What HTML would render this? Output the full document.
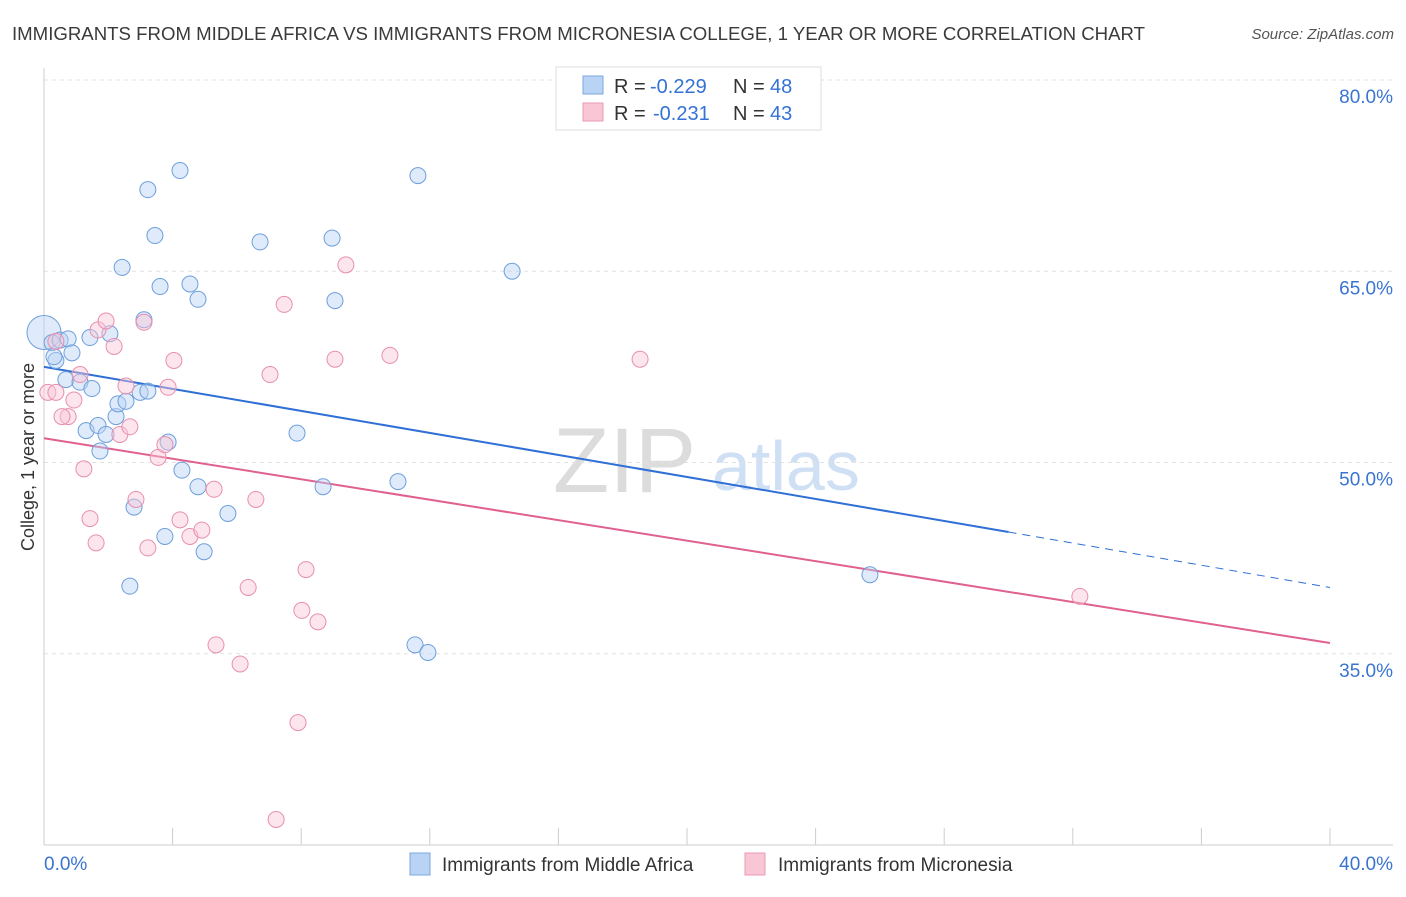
<!DOCTYPE html>
<html><head><meta charset="utf-8"><style>
body{margin:0;background:#fff;font-family:"Liberation Sans",sans-serif;}
svg text{font-family:"Liberation Sans",sans-serif;}
</style></head><body>
<svg id="chart" width="1406" height="892" xmlns="http://www.w3.org/2000/svg">
<text x="12" y="40" font-size="18" fill="#3a3a3a" textLength="1133" lengthAdjust="spacingAndGlyphs">IMMIGRANTS FROM MIDDLE AFRICA VS IMMIGRANTS FROM MICRONESIA COLLEGE, 1 YEAR OR MORE CORRELATION CHART</text>
<text x="1394" y="39" font-size="15" fill="#555" text-anchor="end" font-style="italic">Source: ZipAtlas.com</text>
<g><text x="553" y="492" font-size="92" fill="#dcdcdc" font-family="Liberation Serif">ZIP</text><text x="712" y="490" font-size="70" fill="#cfe0f5">atlas</text></g>
<g id="grid"></g><g id="axes"></g><g id="lines"></g><g id="points"></g>
<text transform="translate(34,457) rotate(-90)" font-size="18" fill="#333" text-anchor="middle">College, 1 year or more</text>
<g>
<rect x="556" y="67" width="265" height="63" fill="#fff" stroke="#ddd"/>
<rect x="583" y="76" width="20" height="18" fill="#b9d3f4" stroke="#7aa8e0"/>
<rect x="583" y="103" width="20" height="18" fill="#f9c6d6" stroke="#eb9ab4"/>
<text x="614" y="93" font-size="20" fill="#333">R =</text>
<text x="650" y="93" font-size="20" fill="#3472d6">-0.229</text>
<text x="733" y="93" font-size="20" fill="#333">N =</text>
<text x="770" y="93" font-size="20" fill="#3472d6">48</text>
<text x="614" y="120" font-size="20" fill="#333">R =</text>
<text x="653" y="120" font-size="20" fill="#3472d6">-0.231</text>
<text x="733" y="120" font-size="20" fill="#333">N =</text>
<text x="770" y="120" font-size="20" fill="#3472d6">43</text>
</g>
<g>
<rect x="410" y="853" width="20" height="22" fill="#b9d3f4" stroke="#7aa8e0"/>
<text x="442" y="871" font-size="19" fill="#333">Immigrants from Middle Africa</text>
<rect x="745" y="853" width="20" height="22" fill="#f9c6d6" stroke="#eb9ab4"/>
<text x="778" y="871" font-size="19" fill="#333">Immigrants from Micronesia</text>
</g>
</svg>
<script>
const yTicks=[35,50,65,80];
const yTickLabels=["35.0%","50.0%","65.0%","80.0%"];
const xEndLabels=["0.0%","40.0%"];
const blueX=[0.0,0.25,0.5,0.75,0.37,0.87,0.31,1.43,2.05,0.68,1.12,1.49,1.31,1.68,1.93,1.74,2.24,2.30,2.55,2.99,3.23,3.11,2.43,3.23,4.23,3.45,3.61,4.54,4.79,6.72,8.96,9.05,11.63,14.56,3.86,4.29,4.79,5.72,2.80,3.76,4.98,2.67,7.87,8.68,11.01,11.54,11.94,25.69];
const blueY=[60.2,59.4,59.6,59.7,58.0,58.6,58.3,59.8,60.1,56.5,56.3,55.8,52.5,52.9,52.2,50.9,53.6,54.6,54.8,55.5,55.6,61.2,65.3,71.4,72.9,67.8,63.8,64.0,62.8,67.3,67.6,62.7,72.5,65.0,51.6,49.4,48.1,46.0,46.5,44.2,43.0,40.3,52.3,48.1,48.5,35.7,35.1,41.2];
const pinkX=[0.12,0.37,0.75,0.56,0.93,1.12,1.24,1.43,1.62,1.68,1.93,2.18,2.36,2.55,2.67,2.86,3.11,3.23,3.55,3.76,3.86,4.04,4.23,4.54,4.91,5.29,5.35,6.10,6.35,6.59,7.03,7.47,7.90,7.22,8.02,8.15,8.52,9.05,9.39,10.76,18.54,32.22,0.37];
const pinkY=[55.5,55.5,53.6,53.6,54.9,56.9,49.5,45.6,43.7,60.4,61.1,59.1,52.2,56.0,52.8,47.1,61.0,43.3,50.4,51.4,55.9,58.0,45.5,44.2,44.7,47.9,35.7,34.2,40.2,47.1,56.9,62.4,29.6,22.0,38.4,41.6,37.5,58.1,65.5,58.4,58.1,39.5,59.5];
const blueTrend=[57.5,44.55,40.2];
const blueTrendX=[0,30,40];
const pinkTrend=[51.9,35.84];
const pinkTrendX=[0,40];
const NS="http://www.w3.org/2000/svg";
const X=v=>44+v*(1330-44)/40;
const Y=v=>80+(80-v)*12.75;
function mk(tag,attrs,parent){const e=document.createElementNS(NS,tag);for(const k in attrs)e.setAttribute(k,attrs[k]);document.getElementById(parent).appendChild(e);return e;}
yTicks.forEach((t,i)=>{
 const g=mk('line',{x1:44,x2:1393,y1:Y(t),y2:Y(t),stroke:'#e2e2e2','stroke-dasharray':'4,4'},'grid');
 
 
 const l=mk('text',{x:1393,y:Y(t)+23,'font-size':19,fill:'#3a74d0','text-anchor':'end'},'grid');
 l.textContent=yTickLabels[i];
 
 
});
let ax=mk('line',{x1:44,x2:44,y1:68,y2:845,stroke:'#ccc'},'axes');


ax=mk('line',{x1:44,x2:1393,y1:845,y2:845,stroke:'#ccc'},'axes');


for(let v=4;v<=40;v+=4){const t=mk('line',{x1:X(v),x2:X(v),y1:828,y2:845,stroke:'#ccc'},'axes');
 
 }
[[0,'start',44],[40,'end',1393]].forEach((a,i)=>{const t=mk('text',{x:a[2],y:870,'font-size':19,fill:'#3a74d0','text-anchor':a[1]},'axes');t.textContent=xEndLabels[i];
 
 });
function pts(xs,ys,fill,stroke,name){xs.forEach((x,i)=>{const c=mk('circle',{cx:X(x),cy:Y(ys[i]),r:(name==='blue-point'&&i===0)?17:8,fill:fill,'fill-opacity':0.45,stroke:stroke,'stroke-width':1},'points');
 
 });}
pts(blueX,blueY,'#b9d3f4','#6d9fdc','blue-point');
pts(pinkX,pinkY,'#f9c6d6','#e88fae','pink-point');
let ln=mk('line',{x1:X(blueTrendX[0]),y1:Y(blueTrend[0]),x2:X(blueTrendX[1]),y2:Y(blueTrend[1]),stroke:'#2f6fd6','stroke-width':2},'lines');


ln=mk('line',{x1:X(blueTrendX[1]),y1:Y(blueTrend[1]),x2:X(blueTrendX[2]),y2:Y(blueTrend[2]),stroke:'#2f6fd6','stroke-width':1,'stroke-dasharray':'8,6'},'lines');


ln=mk('line',{x1:X(pinkTrendX[0]),y1:Y(pinkTrend[0]),x2:X(pinkTrendX[1]),y2:Y(pinkTrend[1]),stroke:'#e0608f','stroke-width':2},'lines');


</script>
</body></html>
